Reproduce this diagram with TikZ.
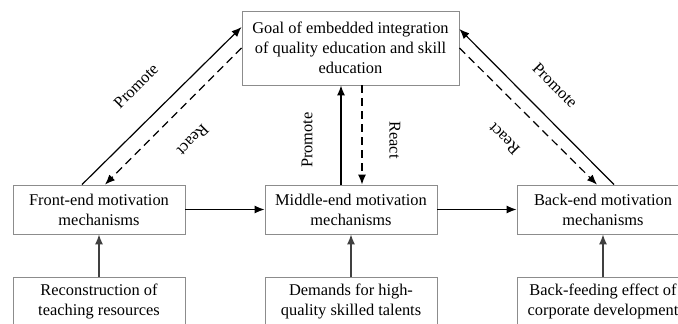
\documentclass[tikz,border=0pt]{standalone}
\usepackage{fontspec}
\setmainfont{Liberation Serif}
\usetikzlibrary{arrows.meta}

\begin{document}
\begin{tikzpicture}[x = 1pt, y = -1pt,
    box/.style = {draw = black!45, line width = 0.9pt, minimum width = 172pt,
                  minimum height = 49pt, inner sep = 0pt, align = center,
                  font = \fontsize{16.4}{20}\selectfont},
    link/.style = {line width = 1.2pt, -{Latex[length = 10pt, width = 8pt]}},
    back link/.style = {link, dash pattern = on 8pt off 5pt},
    feed/.style = {link, draw = black!75},
    word/.style = {inner sep = 0pt, font = \fontsize{16.4}{20}\selectfont}]
  \useasboundingbox (0, 0) rectangle (678, 324);
  \clip (0, 0) rectangle (678, 324);

  % goal and the three mechanisms
  \node[box, minimum width = 217pt, minimum height = 74pt] (goal) at (350.5, 48)
    {Goal of embedded integration\\ of quality education and skill\\ education};
  \node[box] (front) at (99, 209.5)  {Front-end motivation\\ mechanisms};
  \node[box] (middle) at (351, 209.5) {Middle-end motivation\\ mechanisms};
  \node[box] (back) at (603, 209.5)  {Back-end motivation\\ mechanisms};

  % driving factors
  \node[box, anchor = north] (frontsrc) at (99, 277)  {Reconstruction of\\ teaching resources};
  \node[box, anchor = north] (middlesrc) at (351, 277) {Demands for high-\\ quality skilled talents};
  \node[box, anchor = north] (backsrc) at (603, 277)  {Back-feeding effect of\\ corporate development};

  % promote / react
  \draw[link] ([xshift = -17pt]front.north) -- ([yshift = 21pt]goal.west);
  \draw[back link] (goal.west) -- ([xshift = 6pt]front.north);
  \draw[link] ([xshift = -10pt]middle.north) -- ([xshift = -9.5pt]goal.south);
  \draw[back link] ([xshift = 11.5pt]goal.south) -- ([xshift = 11pt]middle.north);
  \draw[link] ([xshift = 11pt]back.north) -- ([yshift = 19pt]goal.east);
  \draw[back link] (goal.east) -- ([xshift = -6pt]back.north);

  \node[word, rotate = 45] (p1) at (136, 86) {Promote};
  \node[word, rotate = 225] (r1) at (193, 140) {React};
  \node[word, rotate = 90] (p2) at (307, 140) {Promote};
  \node[word, rotate = -90] (r2) at (395, 140) {React};
  \node[word, rotate = -45] (p3) at (555, 85) {Promote};
  \node[word, rotate = 135] (r3) at (504, 139) {React};

  % chain
  \draw[link] (front.east) -- (middle.west);
  \draw[link] (middle.east) -- (back.west);
  \draw[feed] (frontsrc.north) -- (front.south);
  \draw[feed] (middlesrc.north) -- (middle.south);
  \draw[feed] (backsrc.north) -- (back.south);
\end{tikzpicture}
\end{document}
